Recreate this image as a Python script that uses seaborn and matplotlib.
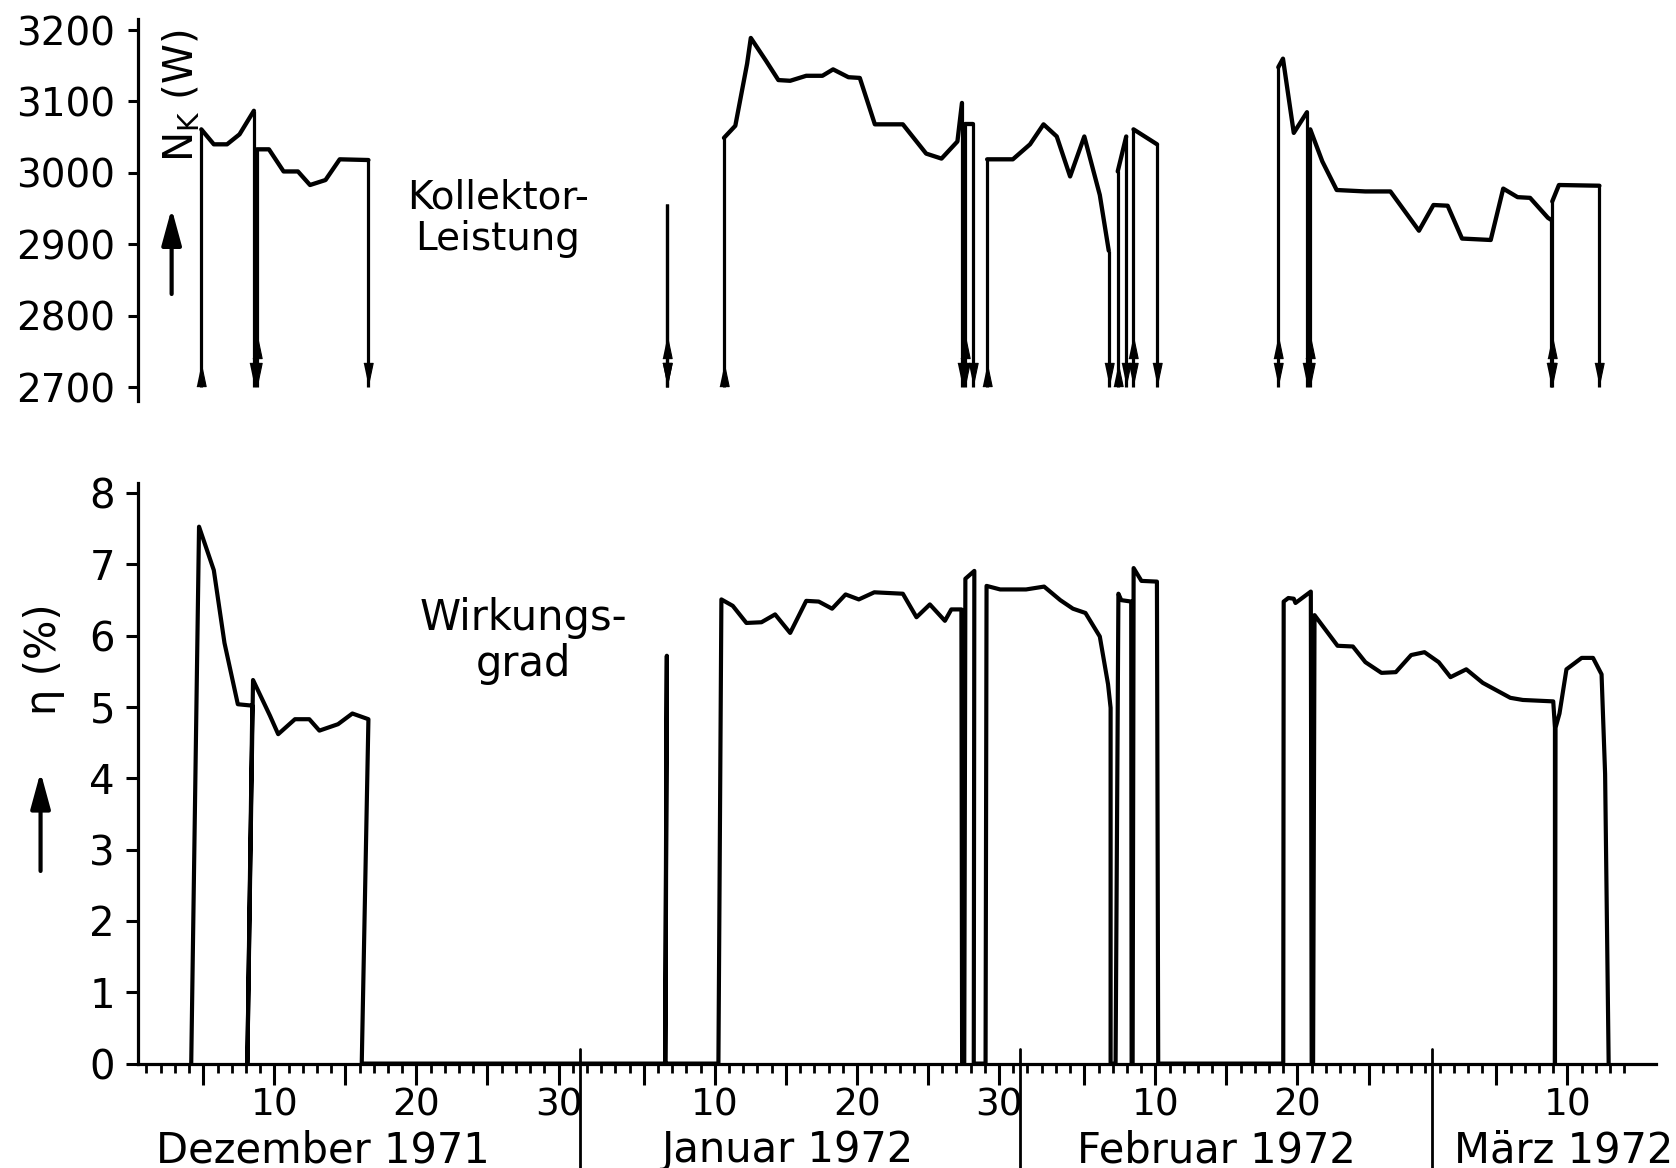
import numpy as np
import pandas as pd
import matplotlib
matplotlib.use('Agg')
import matplotlib.pyplot as plt
from matplotlib import font_manager
import seaborn as sns

# day count: 1 = 1 Dec 1971, 32 = 1 Jan 1972, 63 = 1 Feb 1972, 92 = 1 Mar 1972

# Kollektor-Leistung N_K (W), one run per operating period
nk_run = [1, 1, 1, 1, 1,
          2, 2, 2, 2, 2, 2, 2, 2,
          3,
          4, 4, 4, 4, 4, 4, 4, 4, 4, 4, 4, 4, 4, 4, 4, 4, 4, 4,
          5, 5,
          6, 6, 6, 6, 6, 6, 6, 6, 6,
          7, 7,
          8, 8,
          9, 9, 9, 9,
          10, 10, 10, 10, 10, 10, 10, 10, 10, 10, 10, 10, 10, 10, 10,
          11, 11, 11]
nk_day = [4.86, 5.74, 6.67, 7.55, 8.56,
          8.76, 9.62, 10.65, 11.66, 12.51, 13.6, 14.6, 16.62,
          37.65,
          41.64, 42.44, 43.27, 43.53, 44.6, 45.47, 46.3, 47.43, 48.57, 49.32,
          50.4, 51.2, 52.26, 54.23, 55.87, 56.95, 58.07, 58.39,
          58.63, 59.18,
          60.16, 61.97, 63.18, 64.13, 65.06, 66.0, 67.0, 68.09, 68.72,
          69.35, 69.95,
          70.46, 72.12,
          80.65, 80.98, 81.74, 82.67,
          82.9, 83.75, 84.76, 86.77, 88.54, 90.55, 91.57, 92.57, 93.58, 95.6,
          96.48, 97.49, 98.37, 99.63, 99.87,
          99.93, 100.4, 103.25]
nk_watt = [3061, 3040, 3040, 3054, 3087,
           3033, 3033, 3002, 3002, 2983, 2990, 3019, 3018,
           2957,
           3049, 3066, 3153, 3189, 3157, 3130, 3129, 3136, 3136, 3145,
           3134, 3133, 3068, 3068, 3027, 3020, 3044, 3098,
           3068, 3068,
           3019, 3019, 3040, 3068, 3051, 2995, 3051, 2969, 2891,
           3002, 3051,
           3061, 3040,
           3148, 3160, 3056, 3085,
           3061, 3016, 2976, 2974, 2974, 2919, 2955, 2954, 2908, 2906,
           2978, 2966, 2965, 2937, 2934,
           2960, 2983, 2982]
# run starts drawn with a double arrow (one period ends where the next begins)
nk_double_start = [False, True, True, False, True, False, False, True, True, True, True]

# Wirkungsgrad eta (%), zeros where the collector was off
eta_day = [4.15, 4.7, 5.74, 6.49, 7.43, 8.45, 8.1,
           8.5, 9.69, 10.27, 11.45, 12.46, 13.17, 14.48, 15.49, 16.62, 16.15,
           37.5, 37.62, 37.52,
           41.25, 41.46, 42.26, 43.22, 44.28, 45.24, 46.3, 47.43, 48.31, 49.25,
           50.2, 51.13, 52.22, 54.23, 55.19, 56.13, 57.19, 57.64, 58.35, 58.4,
           58.55, 58.63, 59.26, 59.22,
           60.05, 60.12, 61.08, 62.9, 64.17, 65.31, 66.2, 67.08, 68.09, 68.67,
           68.85, 68.85,
           69.2, 69.4, 69.6, 70.3, 70.33,
           70.4, 70.47, 71.02, 72.11, 72.2,
           81.0, 81.03, 81.36, 81.74, 81.86, 82.94, 83.0,
           83.1, 83.2, 84.82, 85.9, 86.78, 87.91, 88.92, 90.0, 90.94, 91.94,
           92.77, 93.88, 95.04, 96.98, 97.86, 100.0, 100.12, 100.12,
           100.16, 100.44, 100.93, 102.0, 102.8, 103.4, 103.65, 103.9]
eta_val = [0, 7.53, 6.92, 5.9, 5.04, 5.02, 0,
           5.38, 4.88, 4.62, 4.83, 4.83, 4.67, 4.76, 4.91, 4.83, 0,
           0, 5.72, 0,
           0, 6.51, 6.42, 6.18, 6.19, 6.3, 6.04, 6.49, 6.48, 6.38,
           6.58, 6.51, 6.61, 6.59, 6.26, 6.44, 6.21, 6.37, 6.37, 0,
           0, 6.8, 6.91, 0,
           0, 6.7, 6.65, 6.65, 6.69, 6.5, 6.38, 6.32, 5.99, 5.32,
           4.99, 0,
           0, 6.59, 6.5, 6.48, 0,
           0, 6.95, 6.77, 6.76, 0,
           0, 6.48, 6.53, 6.52, 6.46, 6.62, 0,
           0, 6.29, 5.86, 5.85, 5.63, 5.48, 5.49, 5.73, 5.77, 5.63,
           5.42, 5.53, 5.34, 5.13, 5.1, 5.08, 4.71, 0,
           4.71, 4.91, 5.53, 5.69, 5.69, 5.46, 4.06, 0]

nk_ticks = [2700, 2800, 2900, 3000, 3100, 3200]
eta_ticks = [0, 1, 2, 3, 4, 5, 6, 7, 8]

month_names = ['Dezember 1971', 'Januar 1972', 'Februar 1972', 'März 1972']
month_offset = [0, 31, 62, 91]
month_shown_days = [31, 31, 29, 14]
month_label_pos = [13.4, 46.1, 76.3, 100.7]

BASE = 2700

sns.set_style('ticks')
plt.rcParams['font.family'] = ['DejaVu Sans']
plt.rcParams['axes.linewidth'] = 2.3
for key in ['text.color', 'axes.labelcolor', 'xtick.color', 'ytick.color', 'axes.edgecolor']:
    plt.rcParams[key] = 'black'

installed = {f.name for f in font_manager.fontManager.ttflist}
narrow = 'Liberation Sans Narrow' if 'Liberation Sans Narrow' in installed else 'DejaVu Sans'

fig = plt.figure(figsize=(16.76, 11.68), dpi=100)
ax_top = fig.add_axes([0.0823, 0.6564, 0.9055, 0.327])
ax_bot = fig.add_axes([0.0823, 0.0894, 0.9055, 0.4975])

# ---- upper panel: collector power
nk = pd.DataFrame({'day': nk_day, 'watt': nk_watt, 'run': nk_run})
sns.lineplot(data=nk, x='day', y='watt', units='run', estimator=None, sort=False,
             color='black', lw=3.1, ax=ax_top, legend=False)

first = nk.groupby('run').first()
last = nk.groupby('run').last()
dbl = np.array(nk_double_start)
ax_top.vlines(first['day'], BASE, first['watt'], color='black', lw=2.3)
ax_top.vlines(last['day'], BASE, last['watt'], color='black', lw=2.3)

up_head = [(-0.42, -1), (0.42, -1), (0, 1)]
down_head = [(-0.42, 1), (0.42, 1), (0, -1)]
head = dict(ls='none', color='black', ms=16, mew=0.8)
ax_top.plot(first['day'][~dbl], [BASE + 17] * int((~dbl).sum()), marker=up_head, **head)
ax_top.plot(first['day'][dbl], [BASE + 56] * int(dbl.sum()), marker=up_head, **head)
ax_top.plot(first['day'][dbl], [BASE + 18] * int(dbl.sum()), marker=down_head, **head)
ax_top.plot(last['day'], [BASE + 18] * len(last), marker=down_head, **head)

ax_top.set_xlim(0.4, 107.2)
ax_top.set_ylim(2680, 3215)
ax_top.set_yticks(nk_ticks)
ax_top.set_yticklabels([str(v) for v in nk_ticks])
ax_top.tick_params(axis='y', length=7.5, width=2.2, pad=9, labelsize=28)
ax_top.tick_params(axis='x', bottom=False, labelbottom=False)
for s in ['top', 'right', 'bottom']:
    ax_top.spines[s].set_visible(False)
ax_top.set_xlabel('')
ax_top.set_ylabel('')

ax_top.text(0.0285, 0.80, 'N$_\\mathregular{K}$ (W)', transform=ax_top.transAxes,
            rotation=90, ha='center', va='center', fontsize=29)
ax_top.annotate('', xy=(0.0222, 0.505), xytext=(0.0222, 0.281), xycoords='axes fraction',
                arrowprops=dict(arrowstyle='-|>,head_length=0.55,head_width=0.15',
                                mutation_scale=40, lw=3.0, color='black',
                                shrinkA=0, shrinkB=0))
ax_top.text(0.237, 0.48, 'Kollektor-\nLeistung', transform=ax_top.transAxes,
            ha='center', va='center', fontsize=28, linespacing=1.12)

# ---- lower panel: efficiency
sns.lineplot(x=eta_day, y=eta_val, sort=False, estimator=None,
             color='black', lw=3.0, ax=ax_bot)

ax_bot.set_xlim(0.4, 107.2)
ax_bot.set_ylim(0, 8.15)
ax_bot.set_yticks(eta_ticks)
ax_bot.set_yticklabels([str(v) for v in eta_ticks])
ax_bot.tick_params(axis='y', length=8.5, width=2.2, pad=8, labelsize=29)

major_days, major_labels = [], []
for off, n in zip(month_offset, month_shown_days):
    for d in range(5, n + 1, 5):
        major_days.append(off + d)
        major_labels.append(str(d) if d % 10 == 0 else '')
minor_days = list(range(1, sum(month_shown_days) + 1))
ax_bot.set_xticks(major_days)
ax_bot.set_xticklabels(major_labels, fontfamily=narrow)
ax_bot.set_xticks(minor_days, minor=True)
ax_bot.tick_params(axis='x', which='major', length=15, width=2.2, pad=2, labelsize=27)
ax_bot.tick_params(axis='x', which='minor', length=6.5, width=2.0)
for s in ['top', 'right']:
    ax_bot.spines[s].set_visible(False)
ax_bot.set_xlabel('')
ax_bot.set_ylabel('')

for off in month_offset[1:]:
    ax_bot.axvline(off + 0.5, ymin=-0.18, ymax=0.025, color='black', lw=2.0, clip_on=False)
for name, xpos in zip(month_names, month_label_pos):
    ax_bot.text(xpos, -0.1694, name, transform=ax_bot.get_xaxis_transform(),
                ha='center', va='baseline', fontsize=30)

ax_bot.text(0.254, 0.728, 'Wirkungs-\ngrad', transform=ax_bot.transAxes,
            ha='center', va='center', fontsize=30, linespacing=1.12)
fig.text(0.026, 0.4358, 'η (%)', rotation=90, ha='center', va='center', fontsize=30)
ax_bot.annotate('', xy=(0.0242, 0.339), xytext=(0.0242, 0.2543), xycoords='figure fraction',
                arrowprops=dict(arrowstyle='-|>,head_length=0.55,head_width=0.15',
                                mutation_scale=40, lw=3.0, color='black',
                                shrinkA=0, shrinkB=0))

fig.savefig('out.png', dpi=100, facecolor='white')
